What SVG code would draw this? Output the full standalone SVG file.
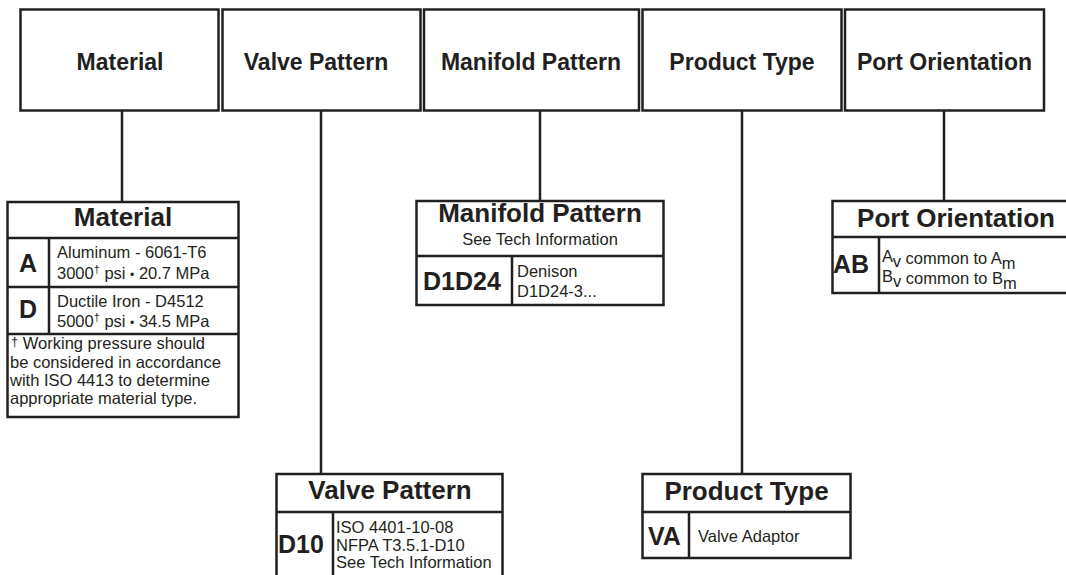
<svg xmlns="http://www.w3.org/2000/svg" width="1066" height="575" viewBox="0 0 1066 575">
<style>
.box{fill:#fff;stroke:#231f20;stroke-width:2.5}
.ln{stroke:#231f20;stroke-width:2.5;fill:none}
.conn{stroke:#231f20;stroke-width:2.5}
text{font-family:"Liberation Sans",Arial,sans-serif;fill:#231f20}
.top{font-size:23px;font-weight:bold;text-anchor:middle}
.hd{font-size:26px;font-weight:bold;text-anchor:middle}
.code{font-size:25px;font-weight:bold}
.sm{font-size:16.5px}
.sup{font-size:11px}
</style>
<rect width="1066" height="575" fill="#fff"/>
<g id="top-material"><rect class="box" x="20.5" y="9.5" width="198" height="101"/><text class="top" x="120" y="70">Material</text></g>
<g id="top-valve"><rect class="box" x="222.5" y="9.5" width="198" height="101"/><text class="top" x="316" y="70">Valve Pattern</text></g>
<g id="top-manifold"><rect class="box" x="424" y="9.5" width="215" height="101"/><text class="top" x="531" y="70">Manifold Pattern</text></g>
<g id="top-product"><rect class="box" x="642.5" y="9.5" width="199" height="101"/><text class="top" x="742" y="70">Product Type</text></g>
<g id="top-port"><rect class="box" x="845" y="9.5" width="199" height="101"/><text class="top" x="944.5" y="70">Port Orientation</text></g>
<g id="connectors">
<line class="conn" x1="122" y1="111" x2="122" y2="202"/>
<line class="conn" x1="321" y1="111" x2="321" y2="474"/>
<line class="conn" x1="540" y1="111" x2="540" y2="201"/>
<line class="conn" x1="742" y1="111" x2="742" y2="474"/>
<line class="conn" x1="944" y1="111" x2="944" y2="201"/>
</g>
<g id="material-detail">
<rect class="box" x="7.5" y="202" width="231" height="215"/>
<path class="ln" d="M7.5 238H238.5M7.5 287H238.5M7.5 334H238.5M49 238V334"/>
<text class="hd" x="123" y="226">Material</text>
<text class="code" x="28" y="272" text-anchor="middle">A</text>
<text class="code" x="28" y="318" text-anchor="middle">D</text>
<text class="sm" x="57" y="258">Aluminum - 6061-T6</text>
<text class="sm" x="57" y="279">3000<tspan class="sup" dy="-6">†</tspan><tspan dy="6"> psi </tspan><tspan font-size="12">•</tspan> 20.7 MPa</text>
<text class="sm" x="57" y="307">Ductile Iron - D4512</text>
<text class="sm" x="57" y="327">5000<tspan class="sup" dy="-6">†</tspan><tspan dy="6"> psi </tspan><tspan font-size="12">•</tspan> 34.5 MPa</text>
<text class="sm" x="11" y="349"><tspan font-size="13" dy="-3">†</tspan><tspan dy="3"> Working pressure should</tspan></text>
<text class="sm" x="10" y="368">be considered in accordance</text>
<text class="sm" x="10" y="386">with ISO 4413 to determine</text>
<text class="sm" x="10" y="404">appropriate material type.</text>
</g>
<g id="manifold-detail">
<rect class="box" x="416.5" y="201" width="247" height="104"/>
<path class="ln" d="M416.5 256H663.5M512 256V305"/>
<text class="hd" x="540" y="222">Manifold Pattern</text>
<text class="sm" x="540" y="245" text-anchor="middle">See Tech Information</text>
<text class="code" x="423" y="290">D1D24</text>
<text class="sm" x="517" y="277">Denison</text>
<text class="sm" x="517" y="297">D1D24-3...</text>
</g>
<g id="port-detail">
<path class="ln" d="M1070 201H832.5V293H1070M832.5 237H1070M879 237V293"/>
<text class="hd" x="956" y="227">Port Orientation</text>
<text class="code" x="833" y="273">AB</text>
<text class="sm" x="882" y="262">A<tspan dy="5">v</tspan><tspan dy="-3"> common to A</tspan><tspan dy="5">m</tspan></text>
<text class="sm" x="882" y="282">B<tspan dy="5">v</tspan><tspan dy="-3"> common to B</tspan><tspan dy="5">m</tspan></text>
</g>
<g id="valve-detail">
<path class="ln" d="M276.5 580V474H502.5V580M276.5 512H502.5M333 512V580"/>
<text class="hd" x="390" y="499">Valve Pattern</text>
<text class="code" x="278" y="553">D10</text>
<text class="sm" x="336" y="533">ISO 4401-10-08</text>
<text class="sm" x="336" y="551">NFPA T3.5.1-D10</text>
<text class="sm" x="336" y="568">See Tech Information</text>
</g>
<g id="product-detail">
<rect class="box" x="642.5" y="474" width="208" height="84"/>
<path class="ln" d="M642.5 512H850.5M689 512V558"/>
<text class="hd" x="746.5" y="500">Product Type</text>
<text class="code" x="648" y="545">VA</text>
<text class="sm" x="698" y="542">Valve Adaptor</text>
</g>
</svg>
